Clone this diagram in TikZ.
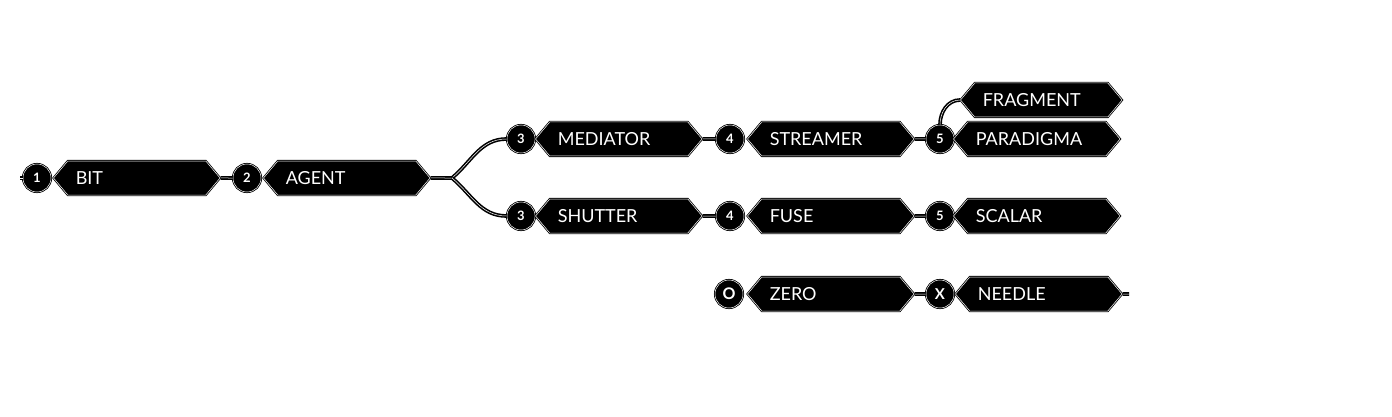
\documentclass[tikz,border=0pt]{standalone}
\usepackage{fontspec}
\setmainfont{Lato}
\usetikzlibrary{shapes.symbols}

\begin{document}
\begin{tikzpicture}[x = 1pt, y = -1pt,
  stage/.style = {signal, signal to = west and east, signal pointer angle = 100,
    fill = black, draw = black, double = white, double distance = 0.5pt, line width = 0.8pt,
    text = white, minimum height = 34pt, text width = 122pt, inner xsep = 8pt, inner ysep = 0pt,
    font = \fontsize{18}{18}\selectfont, anchor = west},
  num/.style = {circle, fill = black, draw = black, double = white, double distance = 0.5pt,
    line width = 0.8pt, minimum size = 28pt, inner sep = 0pt, text = white,
    font = \bfseries\fontsize{13}{13}\selectfont},
  link/.style = {draw = black, line width = 1.6pt, double = white, double distance = 0.5pt}]
\useasboundingbox (0, 0) rectangle (1392, 417);
\node[num] (n1) at (37, 178) {1};
\node[stage] (bit) at (53, 178) {BIT};
\node[num] (n2) at (247, 178) {2};
\node[stage] (agent) at (263, 178) {AGENT};
\node[num] (n3a) at (521, 139) {3};
\node[stage] (mediator) at (535, 139) {MEDIATOR};
\node[num] (n4a) at (730, 139) {4};
\node[stage] (streamer) at (747, 139) {STREAMER};
\node[num] (n5a) at (940, 139) {5};
\node[stage] (paradigma) at (953, 139) {PARADIGMA};
\node[stage, text width = 117pt] (fragment) at (960, 100) {FRAGMENT};
\node[num] (n3b) at (521, 216) {3};
\node[stage] (shutter) at (535, 216) {SHUTTER};
\node[num] (n4b) at (730, 216) {4};
\node[stage] (fuse) at (747, 216) {FUSE};
\node[num] (n5b) at (940, 216) {5};
\node[stage] (scalar) at (953, 216) {SCALAR};
\node[num, font = \bfseries\fontsize{16}{16}\selectfont] (nzero) at (729, 294) {O};
\node[stage] (zero) at (747, 294) {ZERO};
\node[num, font = \bfseries\fontsize{15}{15}\selectfont] (nx) at (940, 294) {X};
\node[stage] (needle) at (955, 294) {NEEDLE};
\coordinate (lead) at (20, 178);
\coordinate (split) at (452, 178);
\coordinate (tail) at (1129, 294);
\draw[link] (lead) -- (n1);
\draw[link] (bit) -- (n2);
\draw[link] (agent) -- (split);
\draw[link] (split) to[out = 40, in = 180] (n3a);
\draw[link] (split) to[out = -40, in = 180] (n3b);
\draw[link] (mediator) -- (n4a);
\draw[link] (streamer) -- (n5a);
\draw[link] (n5a) to[out = 90, in = 180] (fragment);
\draw[link] (shutter) -- (n4b);
\draw[link] (fuse) -- (n5b);
\draw[link] (zero) -- (nx);
\draw[link] (needle) -- (tail);
\end{tikzpicture}
\end{document}
